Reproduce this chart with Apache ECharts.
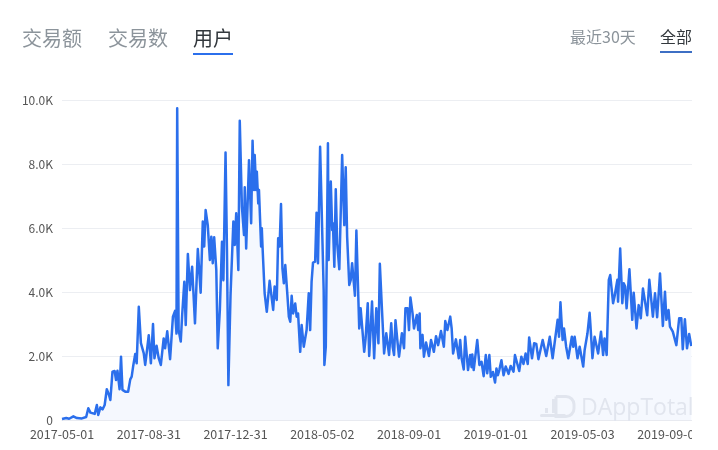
<!DOCTYPE html>
<html><head><meta charset="utf-8">
<style>html,body{margin:0;padding:0;background:#fff}#c{width:692px;height:450px;overflow:hidden}</style>
<script src="https://cdn.jsdelivr.net/npm/echarts@6/dist/echarts.min.js"></script>
</head><body><div id="c"></div>
<script>
const startDate = '2017-05-01';
const dayCount = 887;
const yTicks = ['0','2.0K','4.0K','6.0K','8.0K','10.0K'];
const leftTabs = ['交易额','交易数','用户'];
const rightTabs = ['最近30天','全部'];
const days = [0,6,10,16,21,28,34,37,40,46,49,51,54,57,60,63,66,68,71,74,76,78,81,83,85,89,93,96,98,100,103,105,108,111,115,117,119,122,125,128,130,133,136,139,143,145,148,152,156,159,161,162,164,167,169,172,174,177,180,183,187,191,195,198,200,202,205,208,210,212,214,217,219,222,225,227,230,232,234,237,241,243,245,248,250,253,256,257,259,263,266,268,270,271,273,274,276,277,280,281,282,285,288,290,292,294,297,299,302,304,306,308,310,312,314,317,319,321,323,325,328,330,332,335,337,340,344,347,349,351,353,356,358,360,363,365,368,369,371,374,375,378,380,381,383,385,387,390,394,397,399,401,404,406,408,412,414,418,
420,422,425,427,430,432,434,436,439,442,445,447,450,453,456,460,463,465,467,469,472,474,478,481,483,486,488,490,493,495,499,501,503,504,507,509,512,516,519,523,526,529,533,537,539,542,546,548,550,554,558,
560,562,565,567,571,574,576,577,579,584,587,590,593,596,598,601,603,606,609,611,613,615,618,621,624,628,631,635,637,643,646,649,652,655,657,661,664,667,670,676,681,686,690,697,699,701,704,706,709,712,717,719,
721,725,728,730,733,735,739,742,743,746,749,754,758,761,763,766,769,771,775,777,781,782,785,788,790,792,794,798,802,804,808,811,814,817,819,823,826,831,834,837,841,845,848,850,853,855,859,864,868,871,873,876,879,882,885];
const users = [30,60,40,115,60,50,95,365,230,190,470,155,395,330,470,960,790,625,1510,1530,1250,1540,960,1980,940,885,885,1270,1355,1670,2060,1770,3540,2400,2080,1720,2080,2650,1770,3000,1930,2320,1930,1720,2550,2240,2770,1900,3230,3410,2700,9740,2810,2450,3280,4320,2970,5190,4060,4790,3020,5340,3980,6200,5420,6560,6090,5000,5730,4900,5710,4690,2240,3440,5570,4370,8360,5300,1090,3900,6200,5470,6460,4690,9350,6670,5780,7270,5360,8120,6150,8730,7190,8280,7190,7760,6770,7190,5420,5990,5420,3960,3380,3440,4350,4350,3440,4170,3750,5680,5420,6750,4740,4270,4840,3900,3230,3070,3880,3330,3640,3230,3330,2130,2970,2290,2810,3960,2810,4320,4920,4950,6480,4900,8540,8560,4060,1720,2290,8650,5000,7450,5940,6150,4790,7210,5520,4710,8280,6090,7900,5730,4220,4370,4900,3880,5920,2860,
3490,3440,2130,2550,3650,2000,2810,3700,1930,3490,2400,4880,3440,2080,2710,2030,3020,2290,2030,3120,2400,1980,2710,2240,3490,3490,2810,3830,3330,2860,3280,2810,3330,2240,2660,1980,2420,2000,2500,2130,2620,2340,2780,2290,3090,2810,3230,2860,2080,2520,1930,
2500,1930,1580,2600,1560,2030,1650,2050,1560,2500,1720,1820,1370,2030,1460,2030,1350,1500,1170,1610,1400,1560,1870,1400,1670,1440,1690,1510,2030,1530,1980,1750,2080,1750,2580,1930,2400,2380,1900,2500,2000,2600,1930,3130,2600,3680,2500,2860,2290,1930,2600,2290,
2600,1930,2290,2290,1670,2190,2710,3350,3020,1930,2600,2080,2760,2030,2550,2030,4380,4530,3650,3850,4380,3700,5360,3650,4270,4170,3490,4710,3130,3980,2860,3590,3180,4110,4150,3270,4380,3230,3960,3210,4580,2940,4010,3130,3440,2920,2760,2340,3180,3180,2210,3150,2240,2690,2310];

const categories = [];
const t0 = Date.parse(startDate + 'T00:00:00Z');
for (let i = 0; i < dayCount; i++) categories.push(new Date(t0 + i * 864e5).toISOString().slice(0, 10));
const seriesData = days.map((d, i) => [d, users[i]]);
const font = '"Noto Sans CJK SC","Noto Sans",sans-serif';
const BLUE = '#2b6fec';
const MARK = '#e1e5ee';
const chart = echarts.init(document.getElementById('c'), null, {renderer:'canvas'});
const tabText = (t, x, y, size, color) => ({type:'text', x, y, style:{text:t, fontSize:size, fontFamily:font, fill:color, textVerticalAlign:'middle'}});
const bar = (x, y, w, h, color) => ({type:'rect', shape:{x, y, width:w, height:h}, style:{fill:color}});
chart.setOption({
  animation:false,
  grid:{left:62, right:0, top:100, bottom:30, containLabel:false, outerBoundsMode:'none'},
  xAxis:{type:'category', data:categories, boundaryGap:false,
    axisTick:{show:false}, axisLine:{lineStyle:{color:'#e8eaf0'}},
    axisLabel:{interval:121, color:'#555', fontSize:12.5, fontFamily:font, margin:8, hideOverlap:false}},
  yAxis:{type:'value', min:0, max:10000, interval:2000,
    axisLine:{show:false}, axisTick:{show:false},
    splitLine:{lineStyle:{color:'#eceef2'}},
    axisLabel:{color:'#555', fontSize:12, fontFamily:font, margin:9, formatter:(v,i)=>yTicks[i]}},
  series:[{type:'line', data:seriesData, showSymbol:false, smooth:false, sampling:null,
    lineStyle:{color:BLUE, width:2.5, join:'round'}, itemStyle:{color:BLUE},
    areaStyle:{color:'#f5f8fe', opacity:1}, z:3}],
  graphic:[
    tabText(leftTabs[0],22,38,20,'#8c949b'),
    tabText(leftTabs[1],108,38,20,'#8c949b'),
    tabText(leftTabs[2],193,38,20,'#33383d'),
    bar(193,53,40,2,BLUE),
    tabText(rightTabs[0],570,37,16,'#8c949b'),
    tabText(rightTabs[1],660,37,16,'#33383d'),
    bar(660,51,32,2,'#3d6fc4'),
    {type:'text', x:581, y:408, z:10, style:{text:'DAppTotal', fontSize:23, fontFamily:'"Open Sans",sans-serif', fill:MARK, textVerticalAlign:'middle'}},
    {type:'rect', z:10, shape:{x:540,y:414,width:26,height:3,r:1.5}, style:{fill:MARK}},
    {type:'rect', z:10, shape:{x:545,y:408,width:3,height:5}, style:{fill:MARK}},
    {type:'rect', z:10, shape:{x:552,y:399,width:3,height:14}, style:{fill:MARK}},
    {type:'rect', z:10, shape:{x:556,y:396.5,width:18,height:20,r:[0,8,8,0]}, style:{fill:'none', stroke:MARK, lineWidth:3}}
  ]
});
</script></body></html>
